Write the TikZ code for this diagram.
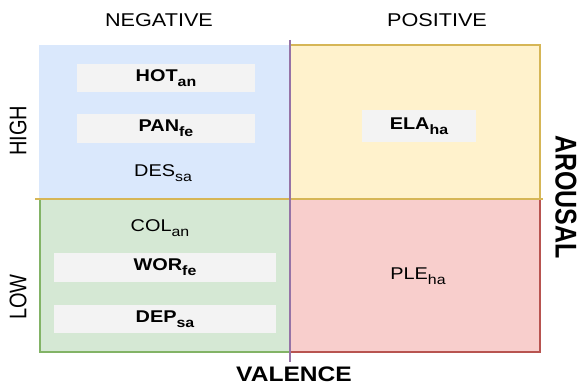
\documentclass[tikz,border=0pt]{standalone}
\usepackage{fontspec}
\setmainfont{Liberation Sans}
\definecolor{negblue}{HTML}{DAE8FC}
\definecolor{lowgreen}{HTML}{D5E8D4}
\definecolor{greenline}{HTML}{82B366}
\definecolor{posyellow}{HTML}{FFF2CC}
\definecolor{yellowline}{HTML}{D6B656}
\definecolor{posred}{HTML}{F8CECC}
\definecolor{redline}{HTML}{B85450}
\definecolor{tagfill}{HTML}{F3F3F3}
\definecolor{valline}{HTML}{9673A6}
% wide text for horizontal labels, tall text for turned ones
\newcommand{\wide}[1]{\scalebox{1.17}[1]{#1}}
\newcommand{\tall}[1]{\scalebox{1}[1.2]{#1}}
\newcommand{\emosub}[1]{\raisebox{-0.3em}{\scalebox{0.8}{#1}}}
\begin{document}
\begin{tikzpicture}[x=1pt, y=-1pt,
  quad/.style={minimum width=250pt, minimum height=154pt, inner sep=0pt, line width=1.2pt},
  tag/.style={fill=tagfill, inner sep=0pt, font=\fontsize{17}{19}\selectfont\bfseries},
  emo/.style={font=\fontsize{17}{19}\selectfont},
  side/.style={font=\fontsize{18.5}{20}\selectfont},
  axis/.style={font=\fontsize{21}{23}\selectfont\bfseries}]
  \useasboundingbox (0,0) rectangle (579,387);
  % quadrants
  \node[quad, fill=negblue, minimum width=251pt] (hineg) at (164.5,122) {};
  \node[quad, fill=lowgreen, draw=greenline, minimum height=153pt] (loneg) at (165,275.5) {};
  \node[quad, fill=posyellow, draw=yellowline] (hipos) at (415,122) {};
  \node[quad, fill=posred, draw=redline, minimum height=153pt] (lopos) at (415,275.5) {};
  % axes
  \coordinate (aroL) at (35,199);
  \coordinate (aroR) at (543,199);
  \coordinate (valT) at (290,40);
  \coordinate (valB) at (290,362);
  \draw[yellowline, line width=2.5pt] (aroL) -- (aroR);
  \draw[valline, line width=2pt] (valT) -- (valB);
  % emotions
  \node[tag, minimum width=178pt, minimum height=28pt] (hot) at (166,78) {\wide{HOT\emosub{an}}};
  \node[tag, minimum width=178pt, minimum height=29pt] (pan) at (166,128.5) {\wide{PAN\emosub{fe}}};
  \node[emo] (des) at (163,173) {\wide{DES\emosub{sa}}};
  \node[emo] (col) at (160,228) {\wide{COL\emosub{an}}};
  \node[tag, minimum width=222pt, minimum height=29pt] (wor) at (165,267.5) {\wide{WOR\emosub{fe}}};
  \node[tag, minimum width=222pt, minimum height=28pt] (dep) at (165,319) {\wide{DEP\emosub{sa}}};
  \node[tag, minimum width=114pt, minimum height=32pt] (ela) at (419,126) {\wide{ELA\emosub{ha}}};
  \node[emo] (ple) at (418,276) {\wide{PLE\emosub{ha}}};
  % labels
  \node[side] (neg) at (159,20) {\wide{NEGATIVE}};
  \node[side] (pos) at (437,20) {\wide{POSITIVE}};
  \node[side, rotate=90, font=\fontsize{20}{22}\selectfont] (high) at (18,131) {\tall{HIGH}};
  \node[side, rotate=90, font=\fontsize{20}{22}\selectfont] (low) at (18,297) {\tall{LOW}};
  \node[axis, rotate=-90, font=\fontsize{25}{27}\selectfont\bfseries] (arousal) at (566,197) {\tall{AROUSAL}};
  \node[axis] (valence) at (294,374) {\wide{VALENCE}};
\end{tikzpicture}
\end{document}
